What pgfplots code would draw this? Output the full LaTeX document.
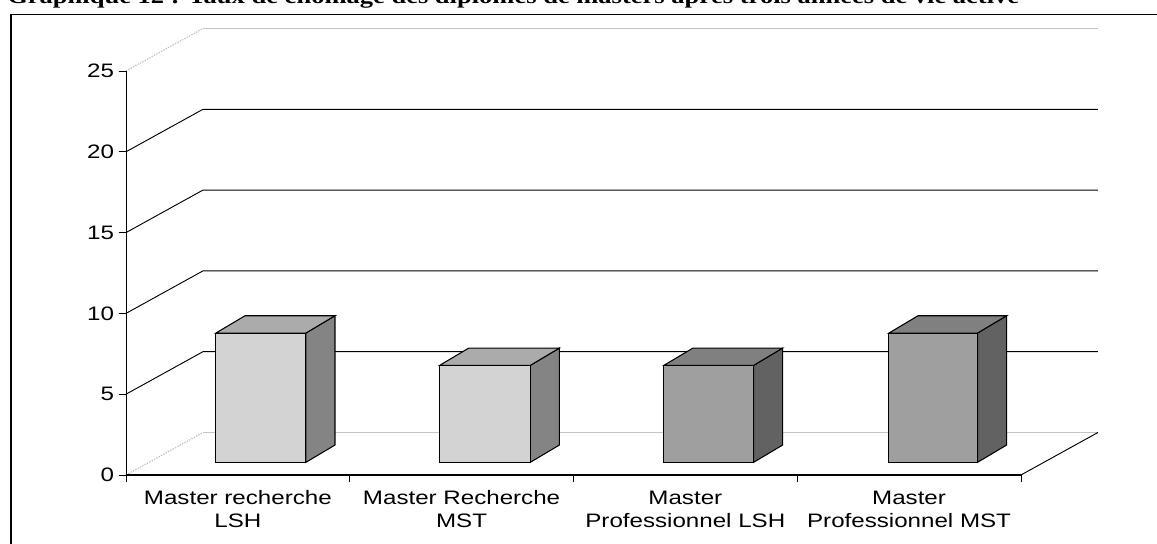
\documentclass[border=0pt]{standalone}
\usepackage{fontspec}
\setmainfont{Liberation Sans}[FakeStretch=1.24]
\newfontfamily\titlefont{Liberation Serif}[BoldFont={Liberation Serif Bold},BoldFeatures={FakeStretch=1.22}]
\usepackage{pgfplots}
\pgfplotsset{compat=1.18}

\definecolor{lightfront}{HTML}{D3D3D3}
\definecolor{lighttop}{HTML}{ABABAB}
\definecolor{lightside}{HTML}{848484}
\definecolor{darkfront}{HTML}{9F9F9F}
\definecolor{darktop}{HTML}{808080}
\definecolor{darkside}{HTML}{626262}
\definecolor{gridgray}{HTML}{C4C4C4}

\tikzset{px/.style={x=0.75pt,y=0.75pt}}

\begin{document}
\begin{tikzpicture}[px]
\clip (0,0) rectangle (1157,543);
% outer frame and title, cut by the page as in the scan
\draw[line width=1.1pt] (11,-10) -- (11,528.5) -- (1170,528.5);
\node[anchor=base west,inner sep=0pt,font=\titlefont\bfseries\fontsize{16.3pt}{18pt}\selectfont] at (7,539) {Graphique 12 : Taux de chômage des diplômés de masters après trois années de vie active};

\begin{axis}[
    at={(94.5pt,51pt)},
    anchor=south west,
    x=167.8pt,
    y=12.12pt,
    xmin=0, xmax=4.344,
    ymin=0, ymax=27.66,
    axis line style={draw=none},
    tick align=outside,
    tick pos=left,
    tick style={black,line width=0.6pt},
    major tick length=5.5pt,
    xtick={0,1,2,3,4},
    xticklabels={},
    extra x ticks={0.5,1.5,2.5,3.5},
    extra x tick labels={{Master recherche\\LSH},{Master Recherche\\MST},{Master\\Professionnel LSH},{Master\\Professionnel MST}},
    extra x tick style={tick style={draw=none}},
    xticklabel style={align=center,font=\fontsize{14.6pt}{17.3pt}\selectfont,yshift=-2.75pt},
    ytick={0,5,10,15,20,25},
    yticklabel style={font=\fontsize{14.6pt}{17pt}\selectfont},
    /pgf/number format/assume math mode=true,
    clip=false,
    axis on top=false,
    bar face/.style={draw=black,line width=0.8pt,line join=miter,yshift=9.5pt,mark=none},
    wall/.style={black,line width=0.7pt,mark=none},
    wall light/.style={gridgray,line width=1pt,mark=none},
]
% back wall and side wall gridlines
\addplot[wall light,densely dotted] coordinates {(0,0) (0.344,2.63)};
\addplot[wall light] coordinates {(0.344,2.63) (4.344,2.63)};
\addplot[wall] coordinates {(0,5) (0.344,7.63) (4.344,7.63)};
\addplot[wall] coordinates {(0,10) (0.344,12.63) (4.344,12.63)};
\addplot[wall] coordinates {(0,15) (0.344,17.63) (4.344,17.63)};
\addplot[wall] coordinates {(0,20) (0.344,22.63) (4.344,22.63)};
\addplot[wall light,densely dotted] coordinates {(0,25) (0.344,27.63)};
\addplot[wall light,line width=1.2pt] coordinates {(0.344,27.63) (4.344,27.63)};
% floor and axes
\addplot[wall] coordinates {(0,0) (0,25)};
\addplot[black,line width=1pt,mark=none] coordinates {(0,0) (4,0)};
\addplot[wall] coordinates {(4,0) (4.344,2.63)};

% Master recherche LSH = 8
\addplot[bar face,fill=lightside] coordinates {(0.804,0) (0.934,1.07) (0.934,9.07) (0.804,8)} -- cycle;
\addplot[bar face,fill=lighttop] coordinates {(0.402,8) (0.804,8) (0.934,9.07) (0.532,9.07)} -- cycle;
\addplot[bar face,fill=lightfront] coordinates {(0.402,0) (0.804,0) (0.804,8) (0.402,8)} -- cycle;
% Master Recherche MST = 6
\addplot[bar face,fill=lightside] coordinates {(1.807,0) (1.937,1.07) (1.937,7.07) (1.807,6)} -- cycle;
\addplot[bar face,fill=lighttop] coordinates {(1.402,6) (1.807,6) (1.937,7.07) (1.532,7.07)} -- cycle;
\addplot[bar face,fill=lightfront] coordinates {(1.402,0) (1.807,0) (1.807,6) (1.402,6)} -- cycle;
% Master Professionnel LSH = 6
\addplot[bar face,fill=darkside] coordinates {(2.805,0) (2.935,1.07) (2.935,7.07) (2.805,6)} -- cycle;
\addplot[bar face,fill=darktop] coordinates {(2.404,6) (2.805,6) (2.935,7.07) (2.534,7.07)} -- cycle;
\addplot[bar face,fill=darkfront] coordinates {(2.404,0) (2.805,0) (2.805,6) (2.404,6)} -- cycle;
% Master Professionnel MST = 8
\addplot[bar face,fill=darkside] coordinates {(3.806,0) (3.936,1.07) (3.936,9.07) (3.806,8)} -- cycle;
\addplot[bar face,fill=darktop] coordinates {(3.41,8) (3.806,8) (3.936,9.07) (3.54,9.07)} -- cycle;
\addplot[bar face,fill=darkfront] coordinates {(3.41,0) (3.806,0) (3.806,8) (3.41,8)} -- cycle;
\end{axis}
\end{tikzpicture}
\end{document}
